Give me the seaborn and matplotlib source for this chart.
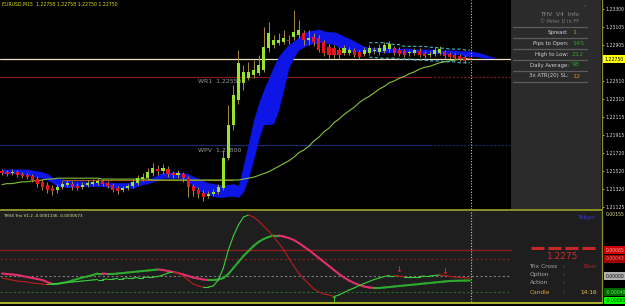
import numpy as np
import matplotlib
matplotlib.use("Agg")
import matplotlib.pyplot as plt
import matplotlib.transforms as mtransforms
from matplotlib.collections import LineCollection
from matplotlib.lines import Line2D
from matplotlib.patches import Rectangle
import seaborn as sns

# ------------------------------------------------------------------ data
header_text = "EURUSD,M15  1.22758 1.22758 1.22750 1.22750"

opens = [1.2152, 1.2151, 1.2150, 1.2151, 1.2149, 1.2148, 1.2146, 1.2143, 1.2140, 1.2137,
         1.2133, 1.2131, 1.2134, 1.2137, 1.2138, 1.2135, 1.2134, 1.2137, 1.2138, 1.2139,
         1.2141, 1.2139, 1.2137, 1.2133, 1.2131, 1.2133, 1.2135, 1.2139, 1.2143, 1.2144,
         1.2150, 1.2154, 1.2152, 1.2154, 1.2150, 1.2148, 1.2149, 1.2144, 1.2135, 1.2131,
         1.2128, 1.2124, 1.2127, 1.2129, 1.2133, 1.2166, 1.2203, 1.2230, 1.2249, 1.2254,
         1.2258, 1.2260, 1.2263, 1.2287, 1.2291, 1.2293, 1.2294, 1.2296, 1.2299, 1.2302,
         1.2304, 1.2296, 1.2299, 1.2298, 1.2294, 1.2288, 1.2287, 1.2285, 1.2282, 1.2282,
         1.2285, 1.2283, 1.2281, 1.2282, 1.2284, 1.2283, 1.2284, 1.2286, 1.2287, 1.2285,
         1.2284, 1.2282, 1.2282, 1.2284, 1.2282, 1.2280, 1.2281, 1.2282, 1.2283, 1.2281,
         1.2280, 1.2278, 1.2277, 1.22758]
closes = [1.2150, 1.2149, 1.2151, 1.2148, 1.2146, 1.2145, 1.2142, 1.2138, 1.2134, 1.2131,
          1.2130, 1.2134, 1.2138, 1.2139, 1.2134, 1.2133, 1.2137, 1.2139, 1.2140, 1.2141,
          1.2138, 1.2135, 1.2131, 1.2130, 1.2133, 1.2135, 1.2140, 1.2144, 1.2145, 1.2151,
          1.2155, 1.2152, 1.2155, 1.2149, 1.2148, 1.2150, 1.2144, 1.2134, 1.2130, 1.2127,
          1.2123, 1.2127, 1.2129, 1.2134, 1.2166, 1.2203, 1.2236, 1.2271, 1.2261, 1.2261,
          1.2263, 1.2269, 1.2288, 1.2304, 1.2296, 1.2296, 1.2298, 1.2295, 1.2305, 1.2307,
          1.2296, 1.2298, 1.2294, 1.2285, 1.2282, 1.2280, 1.2280, 1.2280, 1.2287, 1.2285,
          1.2280, 1.2277, 1.2285, 1.2287, 1.2285, 1.2287, 1.2291, 1.2292, 1.2282, 1.2281,
          1.2280, 1.2283, 1.2285, 1.2280, 1.2278, 1.2281, 1.2285, 1.2286, 1.2278, 1.2277,
          1.2276, 1.2275, 1.2273, 1.22750]
highs = [1.2154, 1.2153, 1.2154, 1.2153, 1.2151, 1.2150, 1.2149, 1.2146, 1.2143, 1.2140,
         1.2137, 1.2138, 1.2141, 1.2142, 1.2141, 1.2139, 1.2140, 1.2142, 1.2143, 1.2144,
         1.2143, 1.2141, 1.2139, 1.2135, 1.2135, 1.2138, 1.2143, 1.2148, 1.2150, 1.2155,
         1.2161, 1.2159, 1.2160, 1.2157, 1.2152, 1.2153, 1.2151, 1.2146, 1.2138, 1.2134,
         1.2131, 1.2130, 1.2132, 1.2138, 1.2175, 1.2225, 1.2247, 1.2285, 1.2269, 1.2272,
         1.2274, 1.2280, 1.2310, 1.2316, 1.2302, 1.2304, 1.2307, 1.2302, 1.2329, 1.2318,
         1.2307, 1.2307, 1.2304, 1.2302, 1.2296, 1.2292, 1.2291, 1.2288, 1.2291, 1.2288,
         1.2287, 1.2285, 1.2288, 1.2291, 1.2288, 1.2292, 1.2294, 1.2295, 1.2289, 1.2288,
         1.2286, 1.2285, 1.2287, 1.2287, 1.2284, 1.2284, 1.2288, 1.2289, 1.2285, 1.2283,
         1.2282, 1.2281, 1.2280, 1.22758]
lows = [1.2148, 1.2146, 1.2148, 1.2145, 1.2144, 1.2143, 1.2140, 1.2134, 1.2131, 1.2128,
        1.2126, 1.2128, 1.2132, 1.2134, 1.2131, 1.2131, 1.2132, 1.2134, 1.2135, 1.2137,
        1.2135, 1.2133, 1.2129, 1.2127, 1.2129, 1.2131, 1.2133, 1.2137, 1.2141, 1.2142,
        1.2146, 1.2148, 1.2149, 1.2145, 1.2144, 1.2144, 1.2140, 1.2123, 1.2124, 1.2122,
        1.2119, 1.2122, 1.2124, 1.2127, 1.2131, 1.2164, 1.2197, 1.2226, 1.2241, 1.2252,
        1.2254, 1.2258, 1.2261, 1.2283, 1.2287, 1.2291, 1.2292, 1.2292, 1.2296, 1.2298,
        1.2291, 1.2291, 1.2289, 1.2283, 1.2278, 1.2276, 1.2276, 1.2275, 1.2280, 1.2280,
        1.2277, 1.2275, 1.2278, 1.2280, 1.2281, 1.2280, 1.2282, 1.2283, 1.2280, 1.2278,
        1.2277, 1.2278, 1.2280, 1.2277, 1.2276, 1.2277, 1.2278, 1.2280, 1.2276, 1.2275,
        1.2274, 1.2273, 1.2271, 1.22750]

cloud_top = [1.2154, 1.2154, 1.2154, 1.2154, 1.2154, 1.2154, 1.2153, 1.2152, 1.2151, 1.2149,
             1.2145, 1.2144, 1.2143, 1.2142, 1.2141, 1.2141, 1.2141, 1.2140, 1.2140, 1.2140,
             1.2140, 1.2140, 1.2139, 1.2139, 1.2139, 1.2139, 1.2140, 1.2141, 1.2142, 1.2143,
             1.2145, 1.2148, 1.2150, 1.2150, 1.2151, 1.2151, 1.2150, 1.2149, 1.2146, 1.2144,
             1.2141, 1.2139, 1.2138, 1.2137, 1.2137, 1.2137, 1.2138, 1.2136, 1.2159, 1.2183,
             1.2208, 1.2226, 1.2241, 1.2254, 1.2267, 1.2278, 1.2285, 1.2291, 1.2295, 1.2299,
             1.2304, 1.2306, 1.2307, 1.2308, 1.2306, 1.2305, 1.2305, 1.2303, 1.2300, 1.2298,
             1.2295, 1.2292, 1.2289, 1.2288, 1.2288, 1.2288, 1.2288, 1.2287, 1.2287, 1.2287,
             1.2287, 1.2287, 1.2286, 1.2286, 1.2286, 1.2286, 1.2286, 1.2285, 1.2285, 1.2285,
             1.2285, 1.2284, 1.2284, 1.2284, 1.2283, 1.2282, 1.2280, 1.2278, 1.2277]
cloud_bottom = [1.2149, 1.2149, 1.2149, 1.2149, 1.2148, 1.2148, 1.2146, 1.2145, 1.2144, 1.2142,
                1.2139, 1.2135, 1.2134, 1.2134, 1.2134, 1.2135, 1.2135, 1.2135, 1.2135, 1.2135,
                1.2135, 1.2134, 1.2133, 1.2133, 1.2133, 1.2133, 1.2133, 1.2135, 1.2137, 1.2138,
                1.2140, 1.2142, 1.2144, 1.2144, 1.2144, 1.2144, 1.2143, 1.2140, 1.2135, 1.2131,
                1.2128, 1.2126, 1.2124, 1.2123, 1.2123, 1.2124, 1.2124, 1.2123, 1.2129, 1.2144,
                1.2164, 1.2186, 1.2203, 1.2203, 1.2204, 1.2219, 1.2241, 1.2265, 1.2277, 1.2285,
                1.2288, 1.2291, 1.2292, 1.2293, 1.2293, 1.2292, 1.2291, 1.2288, 1.2286, 1.2284,
                1.2283, 1.2283, 1.2283, 1.2283, 1.2283, 1.2283, 1.2282, 1.2282, 1.2282, 1.2282,
                1.2282, 1.2282, 1.2282, 1.2282, 1.2281, 1.2281, 1.2281, 1.2281, 1.2280, 1.2280,
                1.2280, 1.2280, 1.2278, 1.2278, 1.2278, 1.2277, 1.2276, 1.2276, 1.2276]

moving_average = [1.2137, 1.2138, 1.2138, 1.2139, 1.2140, 1.2140, 1.2141, 1.2141, 1.2142, 1.2143,
                  1.2143, 1.2144, 1.2144, 1.2144, 1.2144, 1.2144, 1.2144, 1.2144, 1.2144, 1.2144,
                  1.2143, 1.2143, 1.2143, 1.2143, 1.2143, 1.2143, 1.2143, 1.2143, 1.2143, 1.2143,
                  1.2142, 1.2142, 1.2142, 1.2142, 1.2142, 1.2142, 1.2142, 1.2142, 1.2142, 1.2142,
                  1.2142, 1.2142, 1.2142, 1.2142, 1.2142, 1.2142, 1.2142, 1.2142, 1.2143, 1.2144,
                  1.2145, 1.2147, 1.2149, 1.2151, 1.2154, 1.2157, 1.2160, 1.2163, 1.2167, 1.2172,
                  1.2175, 1.2179, 1.2185, 1.2189, 1.2195, 1.2199, 1.2205, 1.2209, 1.2214, 1.2218,
                  1.2222, 1.2227, 1.2231, 1.2234, 1.2238, 1.2242, 1.2245, 1.2249, 1.2251, 1.2254,
                  1.2256, 1.2259, 1.2261, 1.2264, 1.2266, 1.2267, 1.2269, 1.2271, 1.2272, 1.2273,
                  1.2274, 1.2275, 1.2275, 1.2276]

kijun_level = 1.2142
kijun_span = (12, 46)

envelope_start = 73
envelope_upper = [1.2293, 1.2293, 1.2293, 1.2293, 1.2292, 1.2291, 1.2291, 1.2289, 1.2289, 1.2289,
                  1.2289, 1.2289, 1.2288, 1.2288, 1.2287, 1.2287, 1.2286, 1.2286, 1.2286, 1.2285, 1.2285]
envelope_lower = [1.2277, 1.2277, 1.2276, 1.2276, 1.2276, 1.2276, 1.2275, 1.2275, 1.2275, 1.2274,
                  1.2274, 1.2274, 1.2273, 1.2273, 1.2273, 1.2272, 1.2272, 1.2272, 1.2271, 1.2271, 1.2271]

current_price = 1.22750
wr1_level = 1.22550
wpv_level = 1.21800

price_ticks = [1.23300, 1.23105, 1.22905, 1.22510, 1.22310, 1.22115,
               1.21915, 1.21720, 1.21520, 1.21320, 1.21125]
price_tick_labels = ["1.23300", "1.23105", "1.22905", "1.22510", "1.22310", "1.22115",
                     "1.21915", "1.21720", "1.21520", "1.21320", "1.21125"]

# Trix oscillator, in points (1e-5)
trix_fast_pts = [-5, -7.5, -10, -12.5, -13.75, -15, -17.5, -18.75, -20, -21.25,
                 -20, -18.75, -17.5, -16.25, -15, -13.75, -12.5, -11.25, -10, -8.75,
                 -8.75, -7.5, -7.5, -6.25, -6.25, -5, -5, -3.75, -3.75, -2.5,
                 -2.5, -1.25, 2.5, 7.5, 10, 7.5, 0, -10, -20, -25,
                 -27.5, -27.5, -25, -10, 20, 65, 100, 127.5, 147.5, 152.5,
                 147.5, 137.5, 125, 112.5, 97.5, 82.5, 65, 45, 25, 7.5,
                 -7.5, -20, -32.5, -40, -45, -47.5, -51.25, -47.5, -41.25, -35,
                 -30, -23.75, -18.75, -13.75, -8.75, -5, -1.25, 1.25, 1.25, 0,
                 -1.25, -1.25, -1.25, -1.25, 0, 0, 1.25, 2.5, 1.25, -1.25,
                 -2.5, -3.5, -4.5, -5.73]
trix_signal_pts = [6.25, 5, 3.75, 2.5, 0, -2.5, -5, -7.5, -10, -15,
                   -20, -20, -17.5, -15, -11.25, -7.5, -3.75, -1.25, 2.5, 6.25,
                   6.25, 5, 5, 6.25, 7.5, 8.75, 10, 11.25, 12.5, 13.75,
                   15, 16.25, 15, 12.5, 10, 7.5, 3.75, 0, -3.75, -6.25,
                   -8.75, -10, -10, -8.75, -5, 5, 20, 35, 50, 62.5,
                   75, 85, 92.5, 97.5, 101.25, 101.25, 98.75, 95, 90, 82.5,
                   73.75, 65, 55, 45, 35, 25, 15, 5, -3.75, -11.25,
                   -17.5, -22.5, -26.25, -28.75, -30, -30, -28.75, -27.5, -26.25, -25,
                   -23.75, -22.5, -21.25, -20, -18.75, -17.5, -16.25, -15, -13.75, -12.5,
                   -12, -11.75, -11.5, -11.36]
trix_levels = [0.00065, 0.000425, 0.0, -0.00040]
sell_arrows_x = [79, 88]
sell_arrows_y = [0.00015, 0.000125]
buy_arrows_x = [66]
buy_arrows_y = [-0.00058]

trix_axis_labels = ["0.00155", "0.00065", "0.00043", "0.00000", "-0.00040", "-0.00065"]
trix_axis_values = [0.00155, 0.00065, 0.000425, 0.0, -0.00040, -0.00062]

info_rows = ["Spread:", "Pips to Open:", "High to Low:", "Daily Average:", "3x ATR(20) SL:"]
info_values = ["1", "145", "212", "98", "12"]

# ------------------------------------------------------------------ style
sns.set_theme(style="dark", rc={"axes.facecolor": "black", "figure.facecolor": "black"})
plt.rcParams['font.family'] = ['DejaVu Sans']

W, H = 625.0, 306.0
def fx(px): return px / W
def fy(py): return 1.0 - py / H

fig = plt.figure(figsize=(6.25, 3.06), dpi=100)
fig.patch.set_facecolor('black')
ax = fig.add_axes([0, fy(209), fx(602), 209 / H])
ax2 = fig.add_axes([0, fy(302), fx(602), 91 / H])
XLIM = (-0.398, 119.28)

# ------------------------------------------------------------------ main price panel
ax.set_facecolor('black')
ax.set_xlim(*XLIM)
ax.set_ylim(1.21101, 1.23400)
ax.grid(False)
ax.add_patch(Rectangle((511 / 602, 0), 90 / 602, 1, transform=ax.transAxes,
                       facecolor='#2b2b2b', edgecolor='none', zorder=0.5))

o = np.array(opens); c = np.array(closes); h = np.array(highs); l = np.array(lows)
idx = np.arange(len(c))

cidx = np.arange(len(cloud_top))
ax.fill_between(cidx, cloud_bottom, cloud_top, color='#0d16e6', linewidth=0, zorder=2)

ax.axhline(current_price, xmin=0, xmax=0.847, color='#efe3c4', lw=0.9, zorder=1.5)
for lvl, col in [(wr1_level, '#861818'), (wpv_level, '#1e2c6e')]:
    ax.axhline(lvl, xmin=0, xmax=0.714, color=col, lw=0.9, zorder=1.5)
    ax.axhline(lvl, xmin=0.714, xmax=0.847, color=col, lw=0.9, ls=(0, (1.5, 1.5)), zorder=1.5)
ax.text(39, wr1_level - 0.00044, f"WR1  {wr1_level:.5f}", color='#9a9a9a', fontsize=4.4,
        va='center', ha='left', zorder=1.8)
ax.text(39, wpv_level - 0.00055, f"WPV  {wpv_level:.5f}", color='#9a9a9a', fontsize=4.4,
        va='center', ha='left', zorder=1.8)

ax.hlines(kijun_level, kijun_span[0], kijun_span[1], color='#a65a22', lw=0.8, zorder=2.2)
sns.lineplot(x=idx, y=moving_average, ax=ax, color='#86c23c', lw=0.8, zorder=2.5, legend=False)
eidx = np.arange(envelope_start, envelope_start + len(envelope_upper))
ax.plot(eidx, envelope_upper, color='#3fb8c8', lw=0.8, ls=(0, (3, 2)), zorder=3.5)
ax.plot(eidx, envelope_lower, color='#3fb8c8', lw=0.8, ls=(0, (3, 2)), zorder=3.5)

bull = c >= o
body_colors = np.where(bull, '#9be22a', '#e8141e')
ax.vlines(idx, l, h, colors='#a88a3c', lw=0.7, zorder=3)
ax.bar(idx, np.maximum(np.abs(c - o), 0.00005), bottom=np.minimum(o, c), width=0.62,
       color=body_colors, linewidth=0, zorder=4)

ax.axvline(idx[-1] + 0.25, color='#d8c890', lw=0.8, ls=(0, (1, 1.5)), zorder=5)

for s in ['left', 'top', 'bottom']:
    ax.spines[s].set_visible(False)
ax.spines['right'].set_color('#8c8c28')
ax.spines['right'].set_linewidth(0.9)
ax.yaxis.tick_right()
ax.set_xticks([])
ax.set_yticks(price_ticks)
ax.set_yticklabels(price_tick_labels)
ax.tick_params(axis='y', colors='#d8d8d8', labelsize=3.3, length=1.5, width=0.5, pad=0.8)
ax.set_xlabel(''); ax.set_ylabel('')

trans = mtransforms.blended_transform_factory(ax.transAxes, ax.transData)
ax.text(1.004, current_price, f"{current_price:.5f}", transform=trans, fontsize=3.3,
        color='black', va='center', ha='left', clip_on=False, zorder=10,
        bbox=dict(boxstyle='square,pad=0.25', fc='#ffff00', ec='none'))

fig.text(fx(2), fy(4.5), header_text, color='#e2e200', fontsize=3.3, va='center', ha='left')

# info panel
fig.text(fx(560), fy(14.5), "THV  V4  Info", color='#8c8c8c', fontsize=4.3, ha='center', va='center')
fig.text(fx(560), fy(21.7), "\u00a9 Peter D in FF", color='#7a7a7a', fontsize=3.6, ha='center', va='center')
fig.text(fx(585), fy(8), "\u00b0", color='#7a7a7a', fontsize=3.5, ha='center', va='center')
for yy in [27.3, 38.3, 49.3, 60.0, 71.0, 82.0]:
    fig.add_artist(Line2D([fx(513), fx(587)], [fy(yy), fy(yy)], color='#5c5c5c', lw=0.9))
row_y = [32.7, 43.3, 54.3, 65.0, 76.0]
val_cols = ['#d08a20', '#2f9a2f', '#2f9a2f', '#2f9a2f', '#d08a20']
for k, (lab, val) in enumerate(zip(info_rows, info_values)):
    fig.text(fx(568.5), fy(row_y[k]), lab, color='#cfcfcf', fontsize=3.9, ha='right', va='center')
    fig.text(fx(572), fy(row_y[k]), val, color=val_cols[k], fontsize=4.6, ha='left', va='center')

# ------------------------------------------------------------------ Trix panel
ax2.set_facecolor('#1e1e1e')
ax2.set_xlim(*XLIM)
ax2.set_ylim(-0.00065, 0.001625)
ax2.grid(False)
lv_styles = [('#8a1c1c', '-', 1.0), ('#8a2222', (0, (2, 2)), 0.8),
             ('#7a7a7a', (0, (2, 2)), 0.8), ('#226e22', (0, (2, 2)), 0.8)]
for lvl, (col, ls, lw) in zip(trix_levels, lv_styles):
    ax2.axhline(lvl, xmin=0, xmax=0.849, color=col, ls=ls, lw=lw, zorder=1)

tf = np.array(trix_fast_pts) * 1e-5
ts = np.array(trix_signal_pts) * 1e-5
ti = np.arange(len(tf))

def colored(ax_, xs, ys, up_col, dn_col, lw, z):
    pts = np.column_stack([xs, ys])
    segs = np.stack([pts[:-1], pts[1:]], axis=1)
    cols = [up_col if ys[j + 1] >= ys[j] else dn_col for j in range(len(ys) - 1)]
    ax_.add_collection(LineCollection(segs, colors=cols, linewidths=lw, zorder=z,
                                      capstyle='round'))

colored(ax2, ti, ts, '#2eaa2e', '#e0306a', 1.5, 3)
colored(ax2, ti, tf, '#3ccf3c', '#b81c1c', 0.8, 4)

for xx, yy in zip(sell_arrows_x, sell_arrows_y):
    ax2.text(xx, yy, "\u2193", color='#e02020', fontsize=6, fontweight='bold', ha='center', va='center', zorder=6)
for xx, yy in zip(buy_arrows_x, buy_arrows_y):
    ax2.text(xx, yy, "\u2191", color='#30c030', fontsize=6, fontweight='bold', ha='center', va='center', zorder=6)

ax2.axvline(idx[-1] + 0.25, color='#d8c890', lw=0.8, ls=(0, (1, 1.5)), zorder=5)

for s in ['left', 'top', 'bottom']:
    ax2.spines[s].set_visible(False)
ax2.spines['right'].set_color('#8c8c28')
ax2.spines['right'].set_linewidth(0.9)
ax2.set_xticks([]); ax2.set_yticks([])

trans2 = mtransforms.blended_transform_factory(ax2.transAxes, ax2.transData)
box_styles = [(None, '#e0e0a0'), ('#cc0000', '#ffb0b0'), ('#9c0000', '#ff8080'),
              ('#b0b0b0', '#101010'), ('#006400', '#50ff50'), ('#00ff00', '#004000')]
for val, lab, (bg, fg) in zip(trix_axis_values, trix_axis_labels, box_styles):
    kw = dict(transform=trans2, fontsize=3.3, color=fg, va='center', ha='left', clip_on=False, zorder=10)
    if bg is not None:
        kw['bbox'] = dict(boxstyle='square,pad=0.25', fc=bg, ec='none')
    ax2.text(1.006, val, lab, **kw)

fig.text(fx(3), fy(215.7), "THV4 Trix V1.2 -0.0001136 -0.0000573", color='#e6e6a0',
         fontsize=3.0, ha='left', va='center')
fig.text(fx(587), fy(217.7), "Tokyo", color='#3a3adf', fontsize=4.5, ha='center', va='center')
for x0, x1 in [(531, 544), (548, 561), (565, 578), (582, 595)]:
    fig.add_artist(Line2D([fx(x0), fx(x1)], [fy(248), fy(248)], color='#c62828', lw=2.2,
                          solid_capstyle='butt'))
fig.text(fx(562.5), fy(256.5), "1.2275", color='#d42a2a', fontsize=6.5, ha='center', va='center')
lab_rows = [("Trix Cross", 266.0, '#a8a8a8'), ("Option", 274.3, '#a8a8a8'),
            ("Action", 282.7, '#a8a8a8'), ("Candle", 292.0, '#e0a040')]
for txt, yy, col in lab_rows:
    fig.text(fx(529.5), fy(yy), txt, color=col, fontsize=4.2, ha='left', va='center')
    fig.text(fx(563), fy(yy), ":", color='#a8a8a8', fontsize=4.2, ha='center', va='center')
fig.text(fx(597), fy(266.0), "Bear", color='#c42020', fontsize=4.2, ha='right', va='center')
fig.text(fx(597), fy(292.0), "14:16", color='#e0c060', fontsize=4.2, ha='right', va='center')

# panel separators
fig.add_artist(Line2D([0, fx(602)], [fy(209.8), fy(209.8)], color='#9a9a2a', lw=1.3))
fig.add_artist(Line2D([0, fx(602)], [fy(302.8), fy(302.8)], color='#a8b030', lw=1.5))

fig.savefig("out.png", dpi=100, facecolor='black')
